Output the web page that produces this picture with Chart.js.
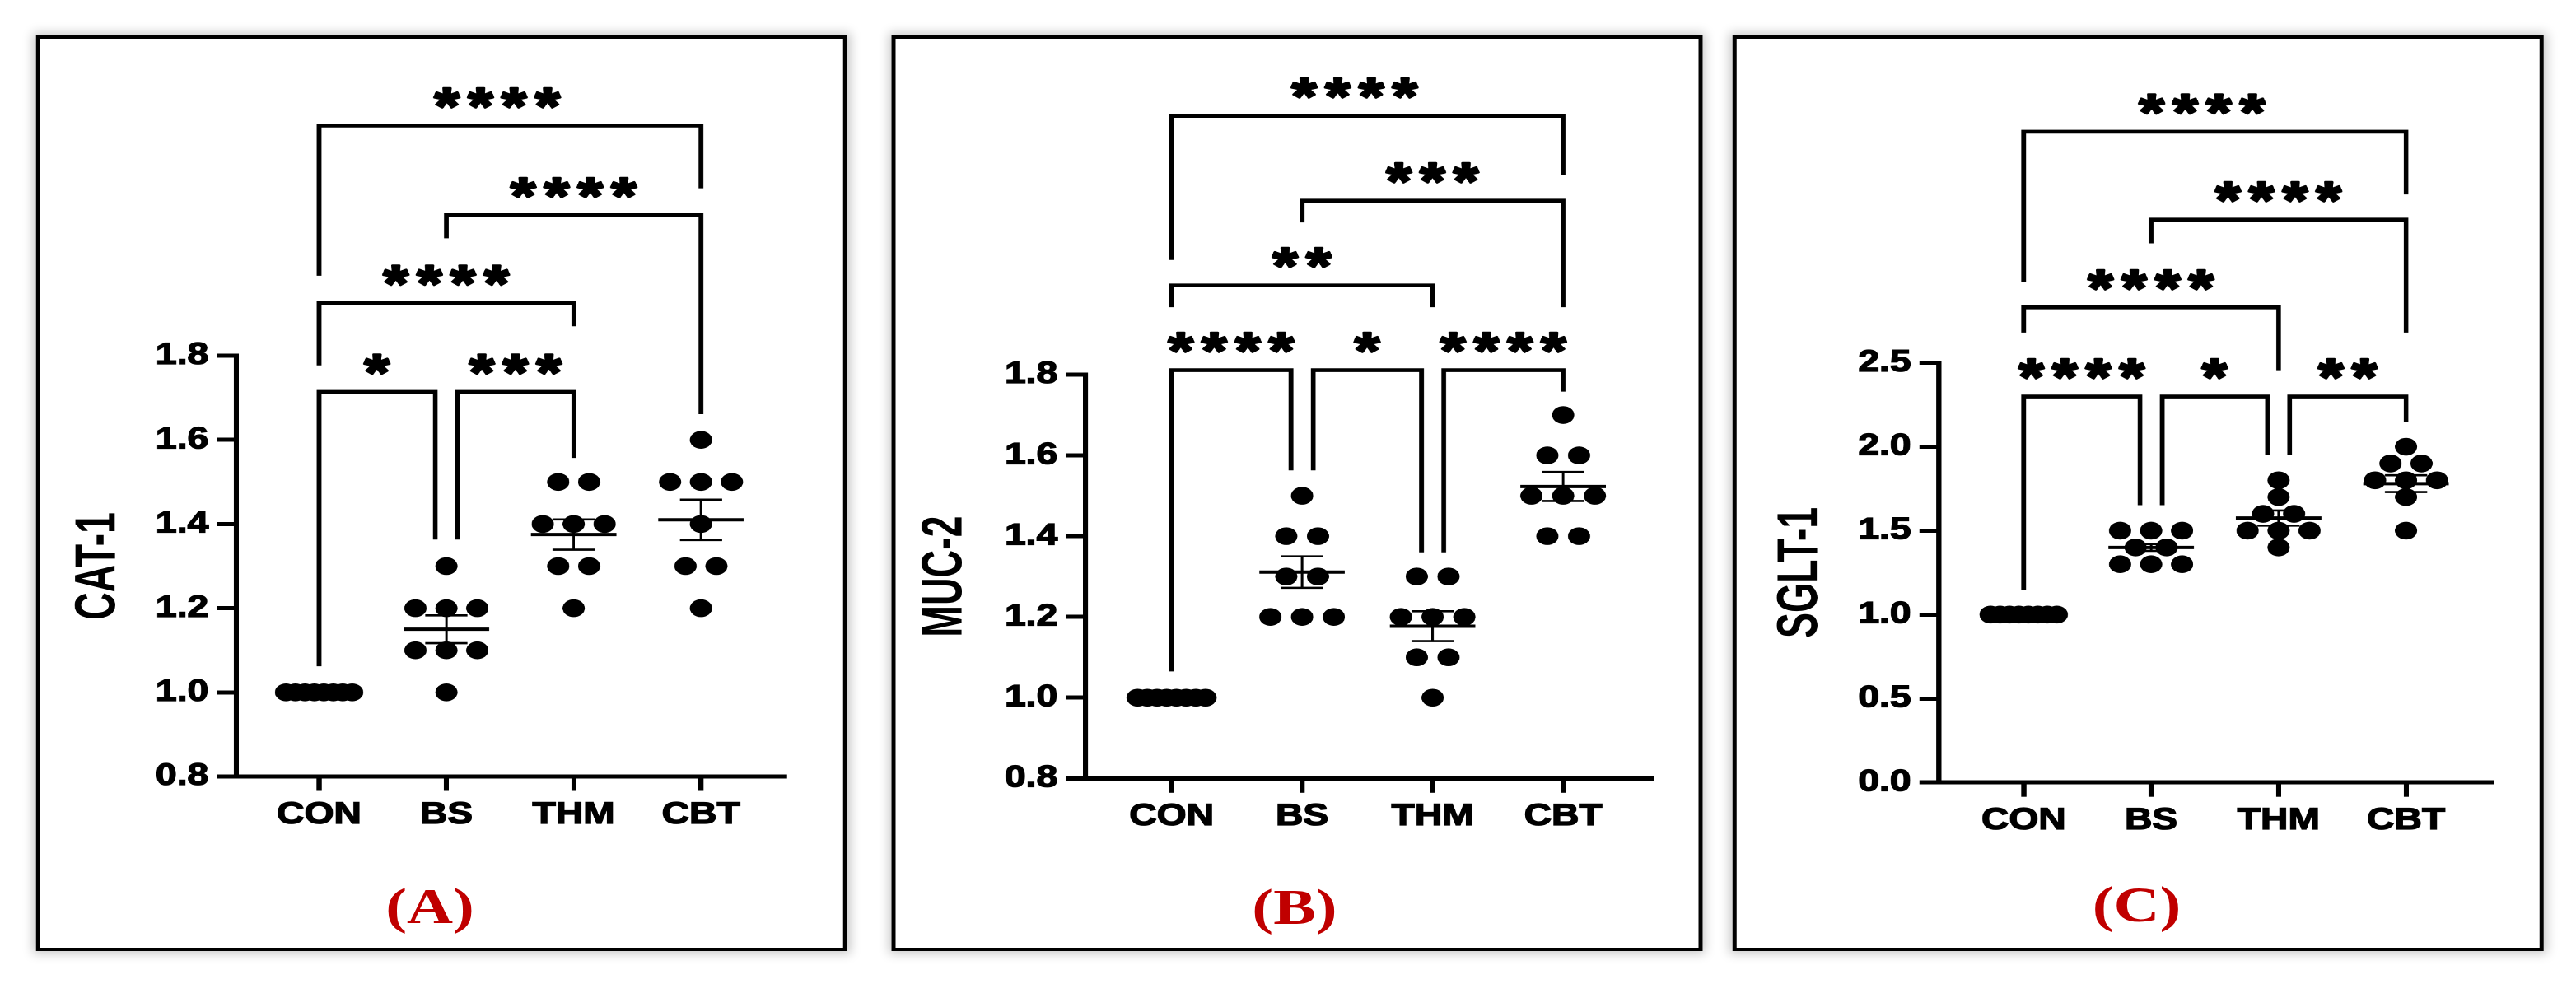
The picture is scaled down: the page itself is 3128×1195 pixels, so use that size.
<!DOCTYPE html>
<html>
<head>
<meta charset="utf-8">
<script src="https://cdn.jsdelivr.net/npm/chart.js@4.4.1/dist/chart.umd.min.js"></script>
<style>
  html, body { margin: 0; padding: 0; background: #fff; overflow: hidden; }
  /* the source figure is stretched sideways, so draw narrow and scale the whole stage */
  #stage { position: absolute; left: 0; top: 0; width: 2502.4px; height: 1195px;
           transform: scaleX(1.25); transform-origin: 0 0; }
  .panel { position: absolute; top: 43px; height: 1112px; background: #fff;
           box-shadow: 0 0 11px 3px rgba(0,0,0,0.22); }
  .panel canvas { position: absolute; left: 0; top: 0; }
  .panel::after { content: ''; position: absolute; inset: 0; border: 4.5px solid #000; pointer-events: none; }
  .tag { position: absolute; transform: translate(-50%, -50%); white-space: nowrap;
         font: bold 62px 'Liberation Serif', 'Times New Roman', serif; color: #c00000; }
</style>
</head>
<body>
<div id="stage"></div>
<script>
const CATEGORIES = ['CON', 'BS', 'THM', 'CBT'];
const TITLES = ['CAT-1', 'MUC-2', 'SGLT-1'];
const TAGS = ['(A)', '(B)', '(C)'];

// y ranges [min, max, step]
const Y_RANGES = [[0.8, 1.8, 0.2], [0.8, 1.8, 0.2], [0, 2.5, 0.5]];

// CAT-1
const CAT1_CON = [1.0, 1.0, 1.0, 1.0, 1.0, 1.0, 1.0, 1.0];
const CAT1_BS  = [1.3, 1.2, 1.2, 1.2, 1.1, 1.1, 1.1, 1.0];
const CAT1_THM = [1.5, 1.5, 1.4, 1.4, 1.4, 1.3, 1.3, 1.2];
const CAT1_CBT = [1.6, 1.5, 1.5, 1.5, 1.4, 1.3, 1.3, 1.2];
const CAT1_MEAN = [1.0, 1.15, 1.375, 1.41];
const CAT1_SEM  = [0, 0.033, 0.036, 0.048];
// [from, to, bar level, left leg end, right leg end, label]
const CAT1_SIG = [
  [0, 3, 2.347, 1.990, 2.198, '****'],
  [1, 3, 2.134, 2.079, 1.661, '****'],
  [0, 2, 1.925, 1.777, 1.870, '****'],
  [0, 1, 1.714, 1.062, 1.363, '*'],
  [1, 2, 1.714, 1.363, 1.557, '***'],
];

// MUC-2
const MUC2_CON = [1.0, 1.0, 1.0, 1.0, 1.0, 1.0, 1.0, 1.0];
const MUC2_BS  = [1.5, 1.4, 1.4, 1.3, 1.3, 1.2, 1.2, 1.2];
const MUC2_THM = [1.3, 1.3, 1.2, 1.2, 1.2, 1.1, 1.1, 1.0];
const MUC2_CBT = [1.7, 1.6, 1.6, 1.5, 1.5, 1.5, 1.4, 1.4];
const MUC2_MEAN = [1.0, 1.311, 1.177, 1.523];
const MUC2_SEM  = [0, 0.039, 0.037, 0.036];
const MUC2_SIG = [
  [0, 3, 2.441, 2.084, 2.294, '****'],
  [1, 3, 2.231, 2.177, 1.967, '***'],
  [0, 2, 2.021, 1.967, 1.967, '**'],
  [0, 1, 1.811, 1.065, 1.563, '****'],
  [1, 2, 1.811, 1.563, 1.360, '*'],
  [2, 3, 1.811, 1.360, 1.758, '****'],
];

// SGLT-1
const SGLT1_CON = [1.0, 1.0, 1.0, 1.0, 1.0, 1.0, 1.0, 1.0];
const SGLT1_BS  = [1.5, 1.5, 1.5, 1.4, 1.4, 1.3, 1.3, 1.3];
const SGLT1_THM = [1.8, 1.7, 1.6, 1.6, 1.5, 1.5, 1.5, 1.4];
const SGLT1_CBT = [2.0, 1.9, 1.9, 1.8, 1.8, 1.8, 1.7, 1.5];
const SGLT1_MEAN = [1.0, 1.4, 1.575, 1.78];
const SGLT1_SEM  = [0, 0.02, 0.045, 0.05];
const SGLT1_SIG = [
  [0, 3, 3.877, 2.979, 3.503, '****'],
  [1, 3, 3.353, 3.212, 2.680, '****'],
  [0, 2, 2.830, 2.680, 2.456, '****'],
  [0, 1, 2.299, 1.147, 1.652, '****'],
  [1, 2, 2.299, 1.652, 1.951, '*'],
  [2, 3, 2.299, 1.951, 2.149, '**'],
];

const PANELS = [
  { groups: [CAT1_CON, CAT1_BS, CAT1_THM, CAT1_CBT], mean: CAT1_MEAN, sem: CAT1_SEM, sig: CAT1_SIG },
  { groups: [MUC2_CON, MUC2_BS, MUC2_THM, MUC2_CBT], mean: MUC2_MEAN, sem: MUC2_SEM, sig: MUC2_SIG },
  { groups: [SGLT1_CON, SGLT1_BS, SGLT1_THM, SGLT1_CBT], mean: SGLT1_MEAN, sem: SGLT1_SEM, sig: SGLT1_SIG },
];

// page geometry (unstretched px, relative to each box)
const LAYOUT = [
  { left: 34.8,   chartLeft: 194.6, chartRight: 728.8, chartTop: 389,   chartBottom: 900,   xMin: -0.65,  xMax: 3.67, titleX: 57.6, tagX: 382.8, tagY: 1057 },
  { left: 865.6,  chartLeft: 188.4, chartRight: 740,   chartTop: 412,   chartBottom: 902.3, xMin: -0.66,  xMax: 3.69, titleX: 49.2, tagX: 392,   tagY: 1058 },
  { left: 1682.7, chartLeft: 200.5, chartRight: 739.7, chartTop: 397.6, chartBottom: 907.2, xMin: -0.665, xMax: 3.69, titleX: 62.9, tagX: 393,   tagY: 1055 },
];
const BOX_W = 788, BOX_H = 1112, XAXIS_H = 100;

const SANS = "'Liberation Sans', Arial, sans-serif";
const TICK_FONT = { family: SANS, size: 37, weight: 'bold' };
const DOT_R = 10.8;
const ROW_STEP = 0.243, ROW_MAX = 0.52;   // scatter spread, category units
const LEG_GAP = 10.8, STAR_RISE = 33, STAR_STEP = 32.6, STAR_W = 24.5;

function swarm(vals, i) {
  const counts = {}, seen = {};
  vals.forEach(v => counts[v] = (counts[v] || 0) + 1);
  return vals.map(v => {
    const n = counts[v];
    const k = seen[v] = (seen[v] === undefined ? 0 : seen[v] + 1);
    const step = n > 1 ? Math.min(ROW_STEP, ROW_MAX / (n - 1)) : 0;
    return { x: i + (k - (n - 1) / 2) * step, y: v };
  });
}

function line(ctx, x1, y1, x2, y2) {
  ctx.beginPath(); ctx.moveTo(x1, y1); ctx.lineTo(x2, y2); ctx.stroke();
}

function drawStars(ctx, label, cx, cy) {
  ctx.font = `bold 100px ${SANS}`;
  const m = ctx.measureText('*');
  const size = 100 * STAR_W / (m.actualBoundingBoxLeft + m.actualBoundingBoxRight);
  ctx.font = `bold ${size}px ${SANS}`;
  const g = ctx.measureText('*');
  const base = cy + (g.actualBoundingBoxAscent - g.actualBoundingBoxDescent) / 2;
  const off = (g.actualBoundingBoxRight - g.actualBoundingBoxLeft) / 2;
  ctx.textAlign = 'center';
  ctx.textBaseline = 'alphabetic';
  ctx.lineWidth = 2.6;
  ctx.lineJoin = 'round';
  const n = label.length;
  for (let k = 0; k < n; k++) {
    const sx = cx + (k - (n - 1) / 2) * STAR_STEP - off;
    ctx.fillText('*', sx, base);
    ctx.strokeText('*', sx, base);
  }
}

function buildPanel(p, idx) {
  const L = LAYOUT[idx];
  const [yMin, yMax, yStep] = Y_RANGES[idx];

  const box = document.createElement('div');
  box.className = 'panel';
  box.style.left = L.left + 'px';
  box.style.width = BOX_W + 'px';
  const canvas = document.createElement('canvas');
  canvas.width = BOX_W; canvas.height = BOX_H;
  box.appendChild(canvas);
  const tag = document.createElement('div');
  tag.className = 'tag';
  tag.textContent = TAGS[idx];
  tag.style.left = L.tagX + 'px';
  tag.style.top = L.tagY + 'px';
  box.appendChild(tag);
  document.getElementById('stage').appendChild(box);

  const meanSem = {
    id: 'meanSem',
    afterDatasetsDraw(chart) {
      const { ctx, scales: { x, y } } = chart;
      ctx.save();
      ctx.strokeStyle = '#000';
      p.mean.forEach((m, i) => {
        const px = x.getPixelForValue(i);
        const ym = y.getPixelForValue(m);
        const yt = y.getPixelForValue(m + p.sem[i]);
        const yb = y.getPixelForValue(m - p.sem[i]);
        ctx.lineWidth = 2.4;
        line(ctx, px, yt, px, yb);
        ctx.lineWidth = 2.6;
        line(ctx, px - 20.5, yt, px + 20.5, yt);
        line(ctx, px - 20.5, yb, px + 20.5, yb);
        ctx.lineWidth = 4;
        line(ctx, px - 41.5, ym, px + 41.5, ym);
      });
      ctx.restore();
    }
  };

  const brackets = {
    id: 'brackets',
    afterDraw(chart) {
      const { ctx, scales: { x, y } } = chart;
      ctx.save();
      ctx.strokeStyle = '#000';
      ctx.fillStyle = '#000';
      p.sig.forEach(b => {
        const [from, to, bar, yFrom, yTo, label] = b;
        let x1 = x.getPixelForValue(from), x2 = x.getPixelForValue(to);
        // neighbouring brackets on the same level share a group: split their legs
        if (p.sig.some(c => c !== b && c[2] === bar && c[1] === from)) x1 += LEG_GAP;
        if (p.sig.some(c => c !== b && c[2] === bar && c[0] === to)) x2 -= LEG_GAP;
        const yb = y.getPixelForValue(bar);
        ctx.lineWidth = 4.6;
        ctx.lineJoin = 'miter';
        ctx.lineCap = 'butt';
        ctx.beginPath();
        ctx.moveTo(x1, y.getPixelForValue(yFrom));
        ctx.lineTo(x1, yb);
        ctx.lineTo(x2, yb);
        ctx.lineTo(x2, y.getPixelForValue(yTo));
        ctx.stroke();
        drawStars(ctx, label, (x1 + x2) / 2, yb - STAR_RISE);
      });
      ctx.restore();
    }
  };

  const yTitle = {
    id: 'yTitle',
    afterDraw(chart) {
      const { ctx, chartArea } = chart;
      ctx.save();
      ctx.translate(L.titleX, (chartArea.top + chartArea.bottom) / 2);
      ctx.rotate(-Math.PI / 2);
      ctx.scale(0.83, 1);
      ctx.font = `bold 56px ${SANS}`;
      ctx.fillStyle = '#000';
      ctx.textAlign = 'center';
      ctx.textBaseline = 'alphabetic';
      const m = ctx.measureText(TITLES[idx]);
      ctx.fillText(TITLES[idx], 0, (m.actualBoundingBoxAscent - m.actualBoundingBoxDescent) / 2);
      ctx.restore();
    }
  };

  const tickText = { color: '#000', font: TICK_FONT, textStrokeColor: '#000', textStrokeWidth: 1.3 };

  new Chart(canvas, {
    type: 'scatter',
    data: {
      datasets: p.groups.map((vals, i) => ({
        data: swarm(vals, i),
        pointRadius: DOT_R,
        pointHoverRadius: DOT_R,
        pointBackgroundColor: '#000',
        pointBorderWidth: 0,
        showLine: false,
        clip: false,
      }))
    },
    options: {
      responsive: false,
      maintainAspectRatio: false,
      animation: false,
      events: [],
      devicePixelRatio: 2,
      layout: { padding: { left: 0, top: L.chartTop, right: BOX_W - L.chartRight, bottom: BOX_H - L.chartBottom - XAXIS_H } },
      plugins: { legend: { display: false }, tooltip: { enabled: false } },
      scales: {
        x: {
          type: 'linear',
          min: L.xMin, max: L.xMax,
          afterBuildTicks: s => { s.ticks = CATEGORIES.map((_, i) => ({ value: i })); },
          afterFit: s => { s.height = XAXIS_H; },
          ticks: { ...tickText, callback: v => CATEGORIES[v], padding: 7, autoSkip: false, maxRotation: 0 },
          grid: { drawOnChartArea: false, drawTicks: true, tickLength: 17.5, tickWidth: 5, tickColor: '#000' },
          border: { display: true, color: '#000', width: 5 },
        },
        y: {
          min: yMin, max: yMax,
          afterFit: s => { s.width = L.chartLeft; },
          ticks: { ...tickText, stepSize: yStep, callback: v => v.toFixed(1), padding: 8 },
          grid: { drawOnChartArea: false, drawTicks: true, tickLength: 19, tickWidth: 5, tickColor: '#000' },
          border: { display: true, color: '#000', width: 5 },
        }
      }
    },
    plugins: [meanSem, brackets, yTitle]
  });
}

PANELS.forEach(buildPanel);
</script>
</body>
</html>
